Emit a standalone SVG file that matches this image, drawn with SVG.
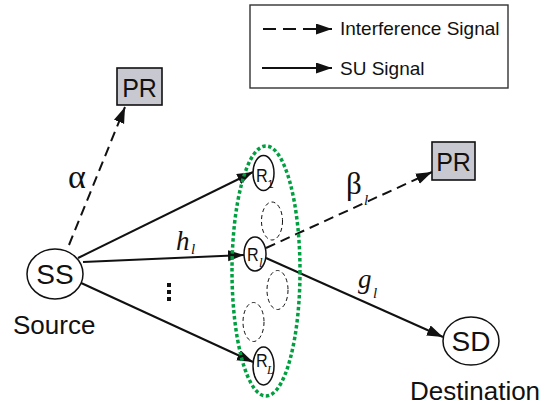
<svg xmlns="http://www.w3.org/2000/svg" width="554" height="410" viewBox="0 0 554 410">
<style>
.ln{stroke:#111;stroke-width:2;fill:none}
.da{stroke-dasharray:10,6}
.node{fill:#fff;stroke:#111;stroke-width:1.5}
.pr{fill:#c8c8d0;stroke:#111;stroke-width:1.6}
.sans{font-family:"Liberation Sans",Arial,sans-serif;fill:#111}
.serif{font-family:"Liberation Serif","Times New Roman",serif;fill:#111}
.ghost{fill:none;stroke:#111;stroke-width:1;stroke-dasharray:4,3}
</style>
<defs>
<marker id="ah" markerUnits="userSpaceOnUse" markerWidth="17" markerHeight="12" refX="16" refY="5.5" orient="auto">
<path d="M0,0 L16,5.5 L0,11 z" fill="#111"/>
</marker>
</defs>
<g id="legend">
<rect x="250" y="5" width="258" height="83" fill="#fff" stroke="#333" stroke-width="1.4"/>
<line class="ln" stroke-dasharray="13,7" x1="263" y1="29" x2="332" y2="29" marker-end="url(#ah)"/>
<text class="sans" x="340" y="35" font-size="19">Interference Signal</text>
<line class="ln" x1="262" y1="68" x2="332" y2="68" marker-end="url(#ah)"/>
<text class="sans" x="340" y="75" font-size="19">SU Signal</text>
</g>
<g id="connectors">
<line class="ln da" x1="69" y1="245" x2="125" y2="107" marker-end="url(#ah)"/>
<line class="ln" x1="78" y1="258" x2="253" y2="172" marker-end="url(#ah)"/>
<line class="ln" x1="83" y1="262" x2="244" y2="255" marker-end="url(#ah)"/>
<line class="ln" x1="79" y1="282" x2="253" y2="362" marker-end="url(#ah)"/>
<line class="ln da" x1="266" y1="248" x2="432" y2="172" marker-end="url(#ah)"/>
<line class="ln" x1="266" y1="258" x2="443" y2="337" marker-end="url(#ah)"/>
</g>
<g id="labels">
<text class="serif" x="68" y="188" font-size="34">α</text>
<text class="serif" x="176" y="250" font-size="27" font-style="italic">h</text>
<text class="serif" x="191" y="254" font-size="15" font-style="italic">l</text>
<rect x="167" y="283" width="4" height="4" fill="#111"/>
<rect x="167" y="290" width="4" height="4" fill="#111"/>
<rect x="167" y="297" width="4" height="4" fill="#111"/>
<text class="serif" x="346" y="194" font-size="31">β</text>
<text class="serif" x="364" y="205" font-size="15" font-style="italic">l</text>
<text class="serif" x="358" y="288" font-size="27" font-style="italic">g</text>
<text class="serif" x="373" y="298" font-size="15" font-style="italic">l</text>
</g>
<g id="cluster">
<ellipse cx="266" cy="271" rx="34" ry="125" fill="none" stroke="#00a040" stroke-width="3.5" stroke-dasharray="3.5,2.5"/>
<ellipse class="ghost" cx="272" cy="221" rx="10.5" ry="19"/>
<ellipse class="ghost" cx="277.5" cy="290" rx="10.5" ry="19.5"/>
<ellipse class="ghost" cx="253.5" cy="322" rx="10.5" ry="19.5"/>
</g>
<g id="SS">
<ellipse class="node" cx="55" cy="274" rx="28" ry="25"/>
<text class="sans" x="55" y="284" font-size="28" text-anchor="middle">SS</text>
<text class="sans" x="13" y="334" font-size="26">Source</text>
</g>
<g id="PR1">
<rect class="pr" x="117" y="68" width="45" height="37"/>
<text class="sans" x="139.5" y="97" font-size="25" text-anchor="middle">PR</text>
</g>
<g id="PR2">
<rect class="pr" x="432" y="142" width="43" height="38"/>
<text class="sans" x="453.5" y="171" font-size="25" text-anchor="middle">PR</text>
</g>
<g id="SD">
<ellipse class="node" cx="471" cy="341" rx="28" ry="24"/>
<text class="sans" x="471" y="351" font-size="28" text-anchor="middle">SD</text>
<text class="sans" x="410" y="400" font-size="26">Destination</text>
</g>
<g id="R1">
<ellipse class="node" cx="263.5" cy="173" rx="10.5" ry="17.5"/>
<text class="sans" x="256" y="182" font-size="19" transform="translate(256 182) scale(0.85 1) translate(-256 -182)">R</text>
<text class="sans" x="267.5" y="188" font-size="11">1</text>
</g>
<g id="Rl">
<ellipse class="node" cx="255" cy="254" rx="11" ry="17"/>
<text class="sans" x="247" y="261" font-size="19" transform="translate(247 261) scale(0.85 1) translate(-247 -261)">R</text>
<text class="serif" x="259" y="267" font-size="13" font-style="italic">l</text>
</g>
<g id="RL">
<ellipse class="node" cx="263.5" cy="366" rx="10.5" ry="19"/>
<text class="sans" x="256" y="367" font-size="19" transform="translate(256 367) scale(0.85 1) translate(-256 -367)">R</text>
<text class="serif" x="267" y="374" font-size="12" font-style="italic">L</text>
</g>
</svg>
